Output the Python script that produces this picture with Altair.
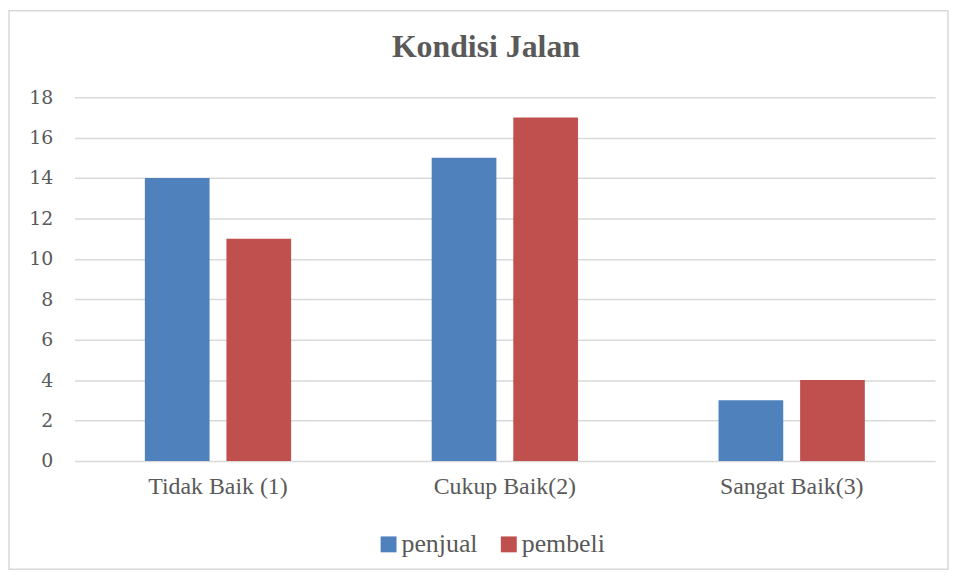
import altair as alt
import pandas as pd

title_text = ["Kondisi Jalan"]
categories = ["Tidak Baik (1)", "Cukup Baik(2)", "Sangat Baik(3)"]
series = ["penjual", "pembeli"]
penjual = [14, 15, 3]
pembeli = [11, 17, 4]
colors = ["#4F81BD", "#C0504D"]
y_ticks = [0, 2, 4, 6, 8, 10, 12, 14, 16, 18]

rows = []
for c, a, b in zip(categories, penjual, pembeli):
    rows.append({"kategori": c, "seri": "penjual", "nilai": a})
    rows.append({"kategori": c, "seri": "pembeli", "nilai": b})
df = pd.DataFrame(rows)

W, H = 866, 366
SERIF = "Liberation Serif"
YFONT = "DejaVu Serif"

bars = alt.Chart(df).mark_bar().encode(
    x=alt.X("kategori:N", sort=categories, title=None,
            scale=alt.Scale(paddingInner=0.49, paddingOuter=0.245),
            axis=alt.Axis(labelAngle=0, domain=False, ticks=False, labelPadding=14,
                          labelFont=SERIF, labelFontSize=24, labelColor="#595959")),
    xOffset=alt.XOffset("seri:N", sort=series, scale=alt.Scale(paddingInner=0.207, paddingOuter=0)),
    y=alt.Y("nilai:Q", title=None, scale=alt.Scale(domain=[0, 18], nice=False),
            axis=alt.Axis(values=y_ticks, domain=False, ticks=False, labelPadding=22,
                          labelFont=YFONT, labelFontSize=19, labelColor="#595959",
                          gridColor="#d9d9d9", gridWidth=1.5)),
    color=alt.Color("seri:N", sort=series, scale=alt.Scale(domain=series, range=colors),
                    legend=alt.Legend(title=None, orient="none", direction="horizontal",
                                      legendX=303, legendY=437,
                                      symbolType="square", symbolSize=256, symbolStrokeWidth=0,
                                      labelFont=SERIF, labelFontSize=26,
                                      labelColor="#595959", labelOffset=0, columnPadding=18)),
)

border = alt.Chart(pd.DataFrame({"d": [0]})).mark_rect(
    fill=None, stroke="#d9d9d9", strokeWidth=1.5
).encode(
    x=alt.value(-66), x2=alt.value(879), y=alt.value(-87), y2=alt.value(475)
)

title = alt.Chart(pd.DataFrame({"judul": title_text})).mark_text(
    font=SERIF, fontSize=32, fontWeight="bold", color="#595959",
    align="center", baseline="middle"
).encode(text="judul:N", x=alt.value(414), y=alt.value(-50))

chart = alt.layer(border, bars, title).properties(
    width=W, height=H,
    padding={"left": 67, "top": 88, "right": 15, "bottom": 108},
    autosize=alt.AutoSizeParams(type="none"),
).configure_view(stroke=None)

chart.save("out.html", embed_options={"renderer": "svg", "actions": False})
